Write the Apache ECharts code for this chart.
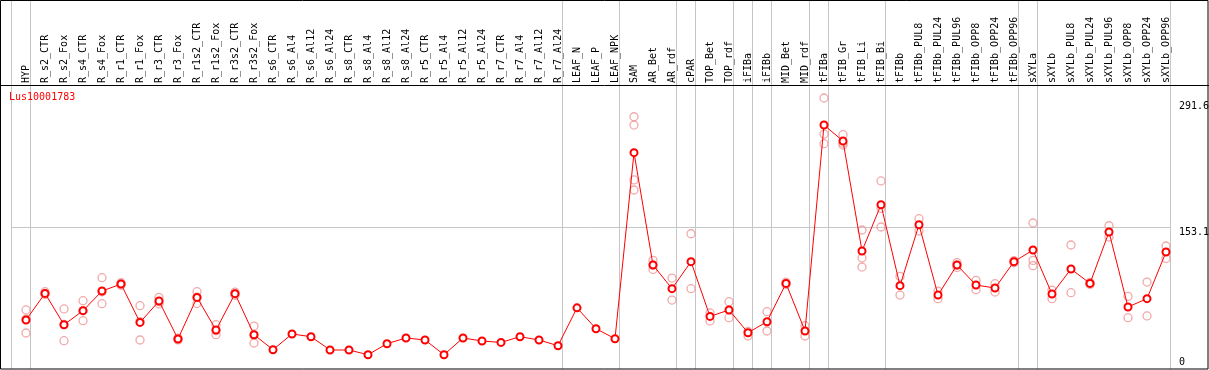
<!DOCTYPE html>
<html><head><meta charset="utf-8">
<script src="https://cdn.jsdelivr.net/npm/echarts@6/dist/echarts.min.js"></script>
<style>html,body{margin:0;padding:0;background:#fff}#c{width:1209px;height:370px}</style>
</head><body><div id="c"></div>
<script>
const chartTitle = 'Lus10001783';
const categories = ['HYP','R_s2_CTR','R_s2_Fox','R_s4_CTR','R_s4_Fox','R_r1_CTR','R_r1_Fox','R_r3_CTR','R_r3_Fox','R_r1s2_CTR','R_r1s2_Fox','R_r3s2_CTR','R_r3s2_Fox','R_s6_CTR','R_s6_Al4','R_s6_Al12','R_s6_Al24','R_s8_CTR','R_s8_Al4','R_s8_Al12','R_s8_Al24','R_r5_CTR','R_r5_Al4','R_r5_Al12','R_r5_Al24','R_r7_CTR','R_r7_Al4','R_r7_Al12','R_r7_Al24','LEAF_N','LEAF_P','LEAF_NPK','SAM','AR_Bet','AR_rdf','cPAR','TOP_Bet','TOP_rdf','iFIBa','iFIBb','MID_Bet','MID_rdf','tFIBa','tFIB_Gr','tFIB_Li','tFIB_Bi','tFIBb','tFIBb_PUL8','tFIBb_PUL24','tFIBb_PUL96','tFIBb_OPP8','tFIBb_OPP24','tFIBb_OPP96','sXYLa','sXYLb','sXYLb_PUL8','sXYLb_PUL24','sXYLb_PUL96','sXYLb_OPP8','sXYLb_OPP24','sXYLb_OPP96'];
const meanValues = [51.7,80.9,46.5,61.9,83.5,91.2,49.0,72.5,30.8,76.5,40.7,80.6,35.5,
  19.0,36.3,33.3,18.7,18.7,13.5,25.6,31.9,29.7,13.5,31.9,28.6,27.0,33.3,29.7,23.4,
  65.0,42.1,31.1,
  235.6,112.1,86.1,115.8,55.6,62.7,37.7,49.8,91.9,39.6,266.0,248.4,127.5,178.4,
  89.4,156.4,79.1,112.1,90.1,86.8,115.8,128.6,80.2,107.7,91.9,148.4,66.0,75.1,126.4];
const replicateValues = [
  [62.7,52.5,37.4],[82.8,80.9,79.8],[63.8,46.8,28.9],[72.9,61.9,50.9],[98.2,82.7,69.6],
  [89.8,91.2,92.6],[67.4,49.9,29.7],[76.5,71.8,69.3],[29.8,30.8,31.8],[82.8,76.8,69.9],
  [46.5,40.0,35.5],[82.4,80.6,78.9],[45.0,35.0,26.4],
  [],[],[],[],[],[],[],[],[],[],[],[],[],[],[],[],
  [],[],[],
  [275.1,266.0,205.6,194.6],[117.2,112.0,107.3],[97.8,73.6],[146.5,86.1],[59.4,50.6],
  [71.8,54.2],[39.1,34.1],[60.8,39.6],[90.6,91.9,93.2],[45.4,34.1],
  [295.7,256.1,245.5],[255.4,246.0,244.0],[150.6,119.8,109.9],[204.5,174.3,153.9],
  [99.6,79.1],[163.0,149.5],[83.5,75.1],[114.7,112.1,109.5],[95.2,85.0],[91.6,82.4],
  [117.0,115.8,114.6],[158.3,117.2,111.4],[84.6,75.1],[134.1,81.7],[93.0,91.9,90.8],
  [155.3,142.9],[77.6,54.2],[93.4,56.1],[133.0,119.4]
];
const yLabelValues = [153.1, 291.6];
const yZeroLabel = [0];
const yGridValue = 153.1;
const yMax = 310;
const groupStarts = [0,1,29,32,35,36,38,39,40,42,43,46,53,54];

const FONT = 'DejaVu Sans Mono';
const GRAY = '#c6c6c6';
const plotTop = 85, plotBottom = 367;
const scale = (plotBottom - plotTop) / yMax;
const gs = new Set(groupStarts);
const repData = [];
replicateValues.forEach((arr, i) => arr.forEach(v => repData.push([i, v])));

const chart = echarts.init(document.getElementById('c'), null, {renderer: 'canvas'});
const yLabelBase = {fontFamily: FONT, fontSize: 10, color: '#000', align: 'left', margin: 3.5};
chart.setOption({
  animation: false,
  backgroundColor: '#fff',
  title: {text: chartTitle, left: 9, top: 92, padding: 0,
    textStyle: {fontFamily: FONT, fontSize: 10, fontWeight: 'normal', color: '#ff0000'}},
  grid: [
    {left: 16.5, right: 33.5, top: plotTop, bottom: 370 - plotBottom, outerBoundsMode: 'none', containLabel: false},
    {left: 11, right: 39, top: 0, bottom: 1, outerBoundsMode: 'none', containLabel: false},
    {left: 11, right: 39, top: plotBottom - yGridValue * 2 * scale, bottom: 370 - plotBottom, outerBoundsMode: 'none', containLabel: false}
  ],
  xAxis: [
    {gridIndex: 0, type: 'category', data: categories, position: 'top', boundaryGap: true,
      axisLine: {show: false}, axisTick: {show: false}, splitLine: {show: false},
      axisLabel: {interval: 0, rotate: 90, margin: 2, fontFamily: FONT, fontSize: 10, color: '#000'}},
    {gridIndex: 1, type: 'category', data: categories, boundaryGap: true,
      axisLine: {show: false}, axisTick: {show: false}, axisLabel: {show: false},
      splitLine: {show: true, interval: (i) => gs.has(i), lineStyle: {color: GRAY, width: 1}}},
    {gridIndex: 2, type: 'category', data: categories, show: false}
  ],
  yAxis: [
    {gridIndex: 0, type: 'value', min: 0, max: yMax, position: 'right',
      axisLine: {show: false}, axisTick: {show: false}, splitLine: {show: false},
      axisLabel: Object.assign({customValues: yLabelValues, verticalAlign: 'top'}, yLabelBase)},
    {gridIndex: 0, type: 'value', min: 0, max: yMax, position: 'right',
      axisLine: {show: false}, axisTick: {show: false}, splitLine: {show: false},
      axisLabel: Object.assign({customValues: yZeroLabel, verticalAlign: 'bottom'}, yLabelBase)},
    {gridIndex: 1, type: 'value', min: 0, max: 1, show: false},
    {gridIndex: 2, type: 'value', min: 0, max: yGridValue * 2, interval: yGridValue,
      axisLine: {show: false}, axisTick: {show: false}, axisLabel: {show: false},
      splitLine: {show: true, showMinLine: false, showMaxLine: false, lineStyle: {color: GRAY, width: 1}}}
  ],
  series: [
    {type: 'scatter', xAxisIndex: 0, yAxisIndex: 0, data: repData, symbol: 'circle', symbolSize: 8,
      itemStyle: {color: 'rgba(0,0,0,0)', borderColor: '#ee9494', borderWidth: 1.3}, z: 2},
    {type: 'line', xAxisIndex: 0, yAxisIndex: 0, data: meanValues, symbol: 'emptyCircle', symbolSize: 7,
      lineStyle: {color: '#ff0000', width: 1}, itemStyle: {color: '#ff0000', borderWidth: 1.5}, z: 3}
  ],
  graphic: [
    {type: 'rect', shape: {x: 0.5, y: 0.5, width: 1207.5, height: 368.5}, style: {fill: null, stroke: '#000', lineWidth: 1}, z: 100, silent: true},
    {type: 'line', shape: {x1: 0, y1: 85.5, x2: 1209, y2: 85.5}, style: {stroke: '#000', lineWidth: 1}, z: 100, silent: true}
  ]
});
</script></body></html>
